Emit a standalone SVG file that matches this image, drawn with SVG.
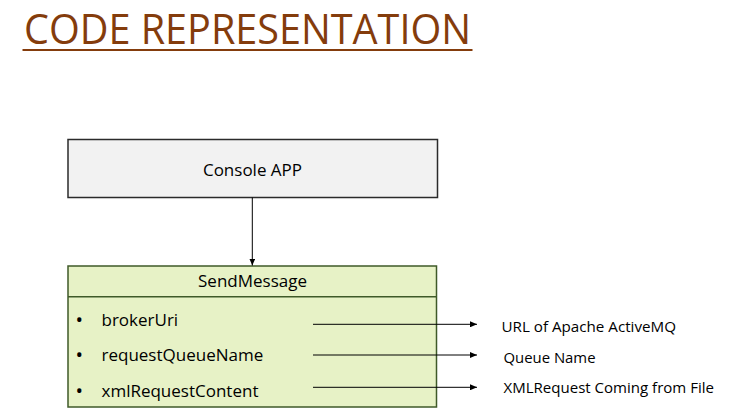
<svg xmlns="http://www.w3.org/2000/svg" width="730" height="414" viewBox="0 0 730 414">
<style>
.t{font-family:"Open Sans","Liberation Sans",sans-serif;fill:#000}
.item{font-size:17px}
.bul{font-size:20px}
.lbl{font-size:14.5px;font-weight:500}
.conn{stroke:#000;stroke-width:1;fill:none}
</style>
<defs>
<marker id="ah" markerWidth="8" markerHeight="6" refX="7" refY="3" orient="auto" markerUnits="userSpaceOnUse">
<path d="M0,0 L7,3 L0,6 Z" fill="#000"/>
</marker>
</defs>
<rect width="730" height="414" fill="#fff"/>
<g id="title">
<text x="24" y="43.5" font-family="Open Sans,Liberation Sans,sans-serif" font-size="42" fill="#843C0C" textLength="447" lengthAdjust="spacingAndGlyphs">CODE REPRESENTATION</text>
<rect x="22.5" y="49" width="450" height="2" fill="#843C0C"/>
</g>
<g id="console-app">
<rect x="68" y="139.5" width="369.5" height="58" fill="#F2F2F2" stroke="#2b2b2b" stroke-width="1.5"/>
<text class="t" x="252.5" y="176" font-size="17" text-anchor="middle">Console APP</text>
</g>
<g id="send-message">
<rect x="68" y="266" width="368.5" height="141" fill="#E7F2C6" stroke="#3F5A28" stroke-width="1.5"/>
<line x1="68" y1="296.7" x2="436.5" y2="296.7" stroke="#3F5A28" stroke-width="1.5"/>
<text class="t" x="252.5" y="287" font-size="17" text-anchor="middle">SendMessage</text>
<text class="t bul" x="75.5" y="327">•</text>
<text class="t item" x="101.5" y="326">brokerUri</text>
<text class="t bul" x="75.5" y="362">•</text>
<text class="t item" x="101.5" y="361">requestQueueName</text>
<text class="t bul" x="75.5" y="397.5">•</text>
<text class="t item" x="101.5" y="396.5">xmlRequestContent</text>
</g>
<g id="labels">
<text class="t lbl" x="501.5" y="331.5" textLength="174.5" lengthAdjust="spacingAndGlyphs">URL of Apache ActiveMQ</text>
<text class="t lbl" x="503.5" y="362.5" textLength="92" lengthAdjust="spacingAndGlyphs">Queue Name</text>
<text class="t lbl" x="503.5" y="393" textLength="210.5" lengthAdjust="spacingAndGlyphs">XMLRequest  Coming from File</text>
</g>
<g id="connectors">
<line class="conn" x1="252.3" y1="197.5" x2="252.3" y2="265.5" marker-end="url(#ah)"/>
<line class="conn" x1="313" y1="324.3" x2="477" y2="324.3" marker-end="url(#ah)"/>
<line class="conn" x1="313" y1="355" x2="477" y2="355" marker-end="url(#ah)"/>
<line class="conn" x1="313" y1="387.3" x2="477" y2="387.3" marker-end="url(#ah)"/>
</g>
</svg>
